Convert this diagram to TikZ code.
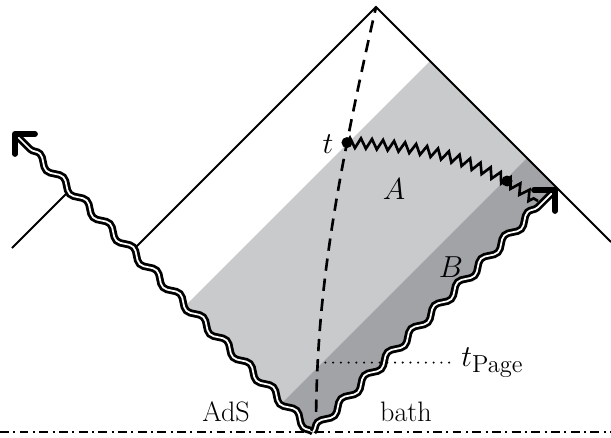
\documentclass[tikz,border=0pt]{standalone}
\usepackage{amsmath}
\usepackage{xcolor}
\definecolor{RegionLight}{HTML}{C9CACC}
\definecolor{RegionDark}{HTML}{A2A3A6}
\usepackage{tikz}
\usetikzlibrary{calc, decorations.pathmorphing, positioning}

\tikzset{
  wave/.style={decoration={snake, segment length=0.66cm, amplitude=0.075cm, post length=0.25cm}},
  radiation/.style={wave, decorate, line width=1.6pt, double=white, double distance=1pt},
  barb/.style={line width=3.3pt, line cap=round, line join=round},
  horizon/.style={line width=1.1pt},
  cutoff/.style={line width=1.5pt, dash pattern=on 7pt off 4.5pt},
  island/.style={line width=1.5pt, decorate, decoration={zigzag, segment length=0.22cm, amplitude=0.1cm}},
  dot/.style={circle, fill, inner sep=0pt, minimum size=0.22cm},
  lbl/.style={font=\fontsize{16}{19}\selectfont}
}

\begin{document}
\begin{tikzpicture}
  \useasboundingbox (-6.26,-0.1) rectangle (5.96,8.64);

  % Penrose diagram corners
  \coordinate (O) at (0,0);
  \coordinate (apex) at (1.26,8.5);
  \coordinate (cornerL) at (-3.6,3.64);
  \coordinate (edgeR) at (5.96,3.8);
  \coordinate (edgeL) at (-6.02,3.68);
  \coordinate (meetL) at (-4.85,4.85);
  \coordinate (tipL) at (-5.96,5.96);
  \coordinate (tipR) at (4.84,4.84);

  % Regions A (light) and B (dark)
  \fill[RegionLight] (O) -- (-2.54,2.54) -- (2.34,7.42) -- (4.88,4.88) -- cycle;
  \fill[RegionDark] (O) -- (-0.6,0.6) -- (4.28,5.48) -- (4.88,4.88) -- cycle;
  % keep the wedges inside the radiation
  \fill[white] decorate[wave]{(O) -- (tipL)} -- ($(tipL)+(-2,-2)$) -- ($(O)+(-2,-2)$) -- cycle;
  \fill[white] decorate[wave]{(O) -- (tipR)} -- ($(tipR)+(2,-2)$) -- ($(O)+(2,-2)$) -- cycle;

  % Light cones
  \draw[horizon] (cornerL) -- (apex) -- (edgeR);
  \draw[horizon] (edgeL) -- (meetL);

  % Boundary between AdS and bath
  \draw[horizon, dash pattern=on 5pt off 2.5pt on 1.2pt off 2.5pt] (-6.26,0) -- (5.96,0);

  % Time slice through the bulk
  \draw[cutoff] (0.06,0) .. controls (0.06,2.5) and (0.35,4.5) .. (apex)
    coordinate[pos=0.19] (pg) coordinate[pos=0.745] (tT);
  \node[lbl, anchor=west] (tpage) at ($(pg)+(2.75,0)$)
    {$t_{\mbox{\fontsize{14}{16}\selectfont Page}}$};
  \draw[line width=1.3pt, line cap=round, dash pattern=on 0pt off 4.4pt] (pg) -- (tpage.west);

  % Island curve
  \node[dot] (tdot) at (tT) {};
  \node[dot] (qdot) at (3.88,5.02) {};
  \coordinate (zend) at (4.5,4.62);
  \draw[island] (tdot.center) to[out=-3, in=152] (qdot.center) to[out=-30, in=150] (zend);

  % Hawking radiation
  \draw[radiation] (O) -- (tipL);
  \draw[radiation] (O) -- (tipR);
  \draw[barb] ($(tipL)+(0.4,0)$) -- (tipL) -- ($(tipL)+(0,-0.4)$);
  \draw[barb] ($(tipR)+(-0.42,0)$) -- (tipR) -- ($(tipR)+(0,-0.42)$);

  % Labels
  \node[lbl] (tlab) at (0.3,5.76) {$t$};
  \node[lbl] (Alab) at (1.62,4.86) {$A$};
  \node[lbl] (Blab) at (2.76,3.3) {$B$};
  \node[lbl, anchor=base] (ads) at (-1.74,0.22) {AdS};
  \node[lbl, anchor=base] (bath) at (1.86,0.22) {bath};
\end{tikzpicture}
\end{document}
